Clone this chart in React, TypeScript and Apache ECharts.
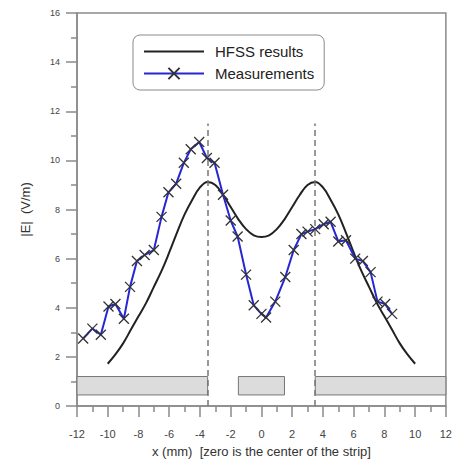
import React, { useEffect, useRef } from "react";
import * as echarts from "echarts";

const hfssX = [-10, -9.5, -9, -8.5, -8, -7.5, -7, -6.5, -6, -5.5, -5, -4.5, -4, -3.5, -3, -2.5, -2, -1.5, -1, -0.5, 0, 0.5, 1, 1.5, 2, 2.5, 3, 3.5, 4, 4.5, 5, 5.5, 6, 6.5, 7, 7.5, 8, 8.5, 9, 9.5, 10];
const hfssY = [1.72, 2.1, 2.55, 3.1, 3.65, 4.2, 4.85, 5.5, 6.25, 7.05, 7.8, 8.4, 8.9, 9.12, 9.0, 8.6, 8.1, 7.6, 7.2, 6.95, 6.88, 6.95, 7.2, 7.6, 8.1, 8.6, 9.0, 9.12, 8.9, 8.4, 7.8, 7.05, 6.25, 5.5, 4.85, 4.2, 3.65, 3.1, 2.55, 2.1, 1.72];

const measX = [-11.6, -11.0, -10.45, -9.95, -9.5, -8.95, -8.55, -8.1, -7.6, -7.0, -6.5, -6.05, -5.55, -5.05, -4.6, -4.05, -3.55, -3.05, -2.5, -2.0, -1.55, -1.0, -0.5, 0.0, 0.3, 0.9, 1.55, 2.1, 2.6, 3.0, 3.5, 4.05, 4.5, 5.0, 5.5, 6.1, 6.6, 7.1, 7.55, 8.05, 8.5];
const measY = [2.75, 3.15, 2.9, 4.05, 4.15, 3.55, 4.85, 5.9, 6.15, 6.35, 7.7, 8.7, 9.05, 9.9, 10.45, 10.75, 10.1, 9.9, 8.6, 7.55, 6.9, 5.35, 4.1, 3.75, 3.6, 4.25, 5.25, 6.35, 7.0, 7.1, 7.2, 7.4, 7.5, 6.7, 6.75, 6.0, 5.9, 5.45, 4.25, 4.15, 3.75];

// metal strips: [xStart, xEnd, yBottom, yTop]
const strips = [
  [-12, -3.5, 0.45, 1.2],
  [-1.5, 1.5, 0.45, 1.2],
  [3.5, 12, 0.45, 1.2],
];
const dashX = [-3.5, 3.5];
const dashTop = 11.5;

const seriesNames = ["HFSS results", "Measurements"];
const FONT = "Liberation Sans, Arial, sans-serif";

export default function App() {
  const ref = useRef<HTMLDivElement>(null);
  useEffect(() => {
    if (!ref.current) return;
    const chart = echarts.init(ref.current, null, { renderer: "svg" });
    const axisColor = "#8a8a8a";
    chart.setOption({
      animation: false,
      backgroundColor: "#ffffff",
      textStyle: { fontFamily: FONT },
      grid: {
        left: 77,
        right: 5,
        top: 13,
        bottom: 57,
        show: true,
        borderColor: axisColor,
        borderWidth: 1.5,
      },
      legend: {
        orient: "vertical",
        left: 133,
        top: 35,
        padding: [9, 10, 9, 10],
        itemWidth: 60,
        itemHeight: 14,
        itemGap: 7,
        borderColor: "#8a8a8a",
        borderWidth: 1,
        borderRadius: 7,
        backgroundColor: "#ffffff",
        textStyle: { fontSize: 15, color: "#222", fontFamily: FONT, padding: [0, 0, 0, 6] },
        data: [
          { name: seriesNames[0], itemStyle: { opacity: 0 } },
          { name: seriesNames[1] },
        ],
      },
      xAxis: {
        type: "value",
        min: -12,
        max: 12,
        interval: 2,
        name: "x (mm)  [zero is the center of the strip]",
        nameLocation: "middle",
        nameGap: 39,
        nameTextStyle: { fontSize: 13, color: "#333", fontFamily: FONT },
        axisLine: { show: true, onZero: false, lineStyle: { color: axisColor, width: 1.5 } },
        axisTick: { show: true, length: 11, lineStyle: { color: axisColor, width: 1.5 } },
        minorTick: { show: true, splitNumber: 2, length: 6, lineStyle: { color: axisColor, width: 1.5 } },
        axisLabel: { fontSize: 11, color: "#444", margin: 22, fontFamily: FONT },
        splitLine: { show: false },
      },
      yAxis: {
        type: "value",
        min: 0,
        max: 16,
        interval: 2,
        name: "|E|  (V/m)",
        nameLocation: "middle",
        nameGap: 45,
        nameTextStyle: { fontSize: 13, color: "#333", fontFamily: FONT },
        axisLine: { show: true, onZero: false, lineStyle: { color: axisColor, width: 1.5 } },
        axisTick: { show: true, length: 11, lineStyle: { color: axisColor, width: 1.5 } },
        minorTick: { show: true, splitNumber: 2, length: 6, lineStyle: { color: axisColor, width: 1.5 } },
        axisLabel: { fontSize: 9, color: "#444", margin: 17, fontFamily: FONT },
        splitLine: { show: false },
      },
      series: [
        {
          name: seriesNames[0],
          type: "line",
          data: hfssX.map((x, i) => [x, hfssY[i]]),
          smooth: 0.4,
          symbol: "none",
          lineStyle: { color: "#222", width: 2 },
          itemStyle: { color: "#222" },
          z: 3,
          markArea: {
            silent: true,
            itemStyle: { color: "#dcdcdc", borderColor: "#777", borderWidth: 1 },
            data: strips.map((s) => [
              { coord: [s[0], s[3]] },
              { coord: [s[1], s[2]] },
            ]),
          },
          markLine: {
            silent: true,
            symbol: "none",
            label: { show: false },
            lineStyle: { color: "#777", type: [6, 4], width: 1.5 },
            data: dashX.map((x) => [{ coord: [x, 0] }, { coord: [x, dashTop] }]),
          },
        },
        {
          name: seriesNames[1],
          type: "line",
          data: measX.map((x, i) => [x, measY[i]]),
          symbol: "path://M0,0L10,10M10,0L0,10",
          symbolSize: 10,
          showSymbol: true,
          lineStyle: { color: "#2626d4", width: 2 },
          itemStyle: { color: "rgba(0,0,0,0)", borderColor: "#333", borderWidth: 1.3 },
          z: 4,
        },
      ],
    });
    return () => chart.dispose();
  }, []);
  return (
    <div
      ref={ref}
      style={{ position: "fixed", left: 0, top: 0, width: 455, height: 463, background: "#fff" }}
    />
  );
}
